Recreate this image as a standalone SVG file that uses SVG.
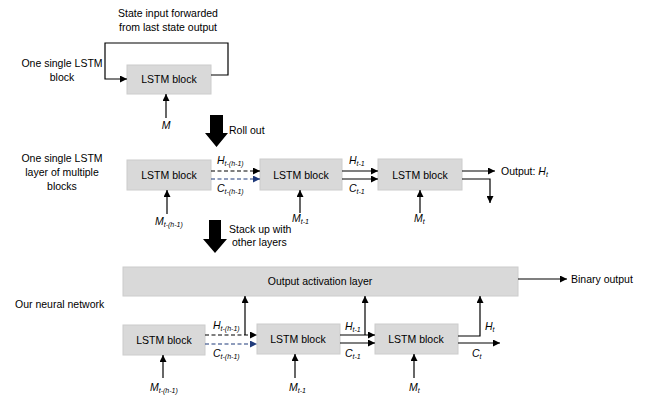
<svg xmlns="http://www.w3.org/2000/svg" width="647" height="396" viewBox="0 0 647 396">
<defs>
<style>
text{font-family:"Liberation Sans",Arial,sans-serif;font-size:10.5px;fill:#000}
.lbl{font-size:10.5px}
.it{font-style:italic;font-size:10.5px}
.sub{font-size:7px}
.blk{fill:#d9d9d9;stroke:#cccccc;stroke-width:1}
.ln{fill:none;stroke:#000;stroke-width:1.2}
.dash{fill:none;stroke:#000;stroke-width:1.2;stroke-dasharray:4 2.5}
.dashb{fill:none;stroke:#1f3a7a;stroke-width:1.2;stroke-dasharray:4 2.5}
</style>
<marker id="ah" viewBox="0 0 10 10" refX="10" refY="5" markerWidth="7" markerHeight="7" markerUnits="userSpaceOnUse" orient="auto"><path d="M0,0 L10,5 L0,10 z" fill="#000"/></marker>
<marker id="ahb" viewBox="0 0 10 10" refX="10" refY="5" markerWidth="7" markerHeight="7" markerUnits="userSpaceOnUse" orient="auto"><path d="M0,0 L10,5 L0,10 z" fill="#1f3a7a"/></marker>
</defs>

<!-- Side labels -->
<g id="labels">
<text x="62" y="67" text-anchor="middle">One single LSTM</text>
<text x="62" y="81" text-anchor="middle">block</text>
<text x="168" y="17" text-anchor="middle">State input forwarded</text>
<text x="168" y="31" text-anchor="middle">from last state output</text>
<text x="62" y="162" text-anchor="middle">One single LSTM</text>
<text x="62" y="176" text-anchor="middle">layer of multiple</text>
<text x="62" y="190" text-anchor="middle">blocks</text>
<text x="15" y="308">Our neural network</text>
<text x="229" y="134">Roll out</text>
<text x="229" y="233">Stack up with</text>
<text x="232" y="246">other layers</text>
<text x="501" y="175">Output: <tspan class="it">H</tspan><tspan class="sub" font-style="italic" dy="2">t</tspan></text>
<text x="571" y="283">Binary output</text>
</g>

<!-- Big arrows -->
<g id="rollout"><path d="M210,115 H223 V133 H228 L216.5,147 L205,133 H210 Z" fill="#000"/></g>
<g id="stackup"><path d="M209,220 H221 V239 H227 L215,253 L203,239 H209 Z" fill="#000"/></g>

<!-- Nodes -->
<g id="top-block"><rect class="blk" x="127" y="65" width="84" height="29"/><text x="169" y="83" text-anchor="middle">LSTM block</text></g>
<g id="r2-block1"><rect class="blk" x="127" y="160" width="84" height="30"/><text x="169" y="179" text-anchor="middle">LSTM block</text></g>
<g id="r2-block2"><rect class="blk" x="260" y="159" width="82" height="31"/><text x="301" y="179" text-anchor="middle">LSTM block</text></g>
<g id="r2-block3"><rect class="blk" x="378" y="159" width="84" height="31"/><text x="420" y="179" text-anchor="middle">LSTM block</text></g>
<g id="output-layer"><rect class="blk" x="123" y="267" width="395" height="29"/><text x="320" y="285" text-anchor="middle">Output activation layer</text></g>
<g id="r3-block1"><rect class="blk" x="123" y="325" width="82" height="30"/><text x="164" y="344" text-anchor="middle">LSTM block</text></g>
<g id="r3-block2"><rect class="blk" x="257" y="324" width="83" height="30"/><text x="298" y="343" text-anchor="middle">LSTM block</text></g>
<g id="r3-block3"><rect class="blk" x="375" y="324" width="83" height="30"/><text x="416" y="343" text-anchor="middle">LSTM block</text></g>

<!-- Connectors -->
<g id="connectors">
<path class="ln" d="M211,75 H228 V43 H105 V79 H127" marker-end="url(#ah)"/>
<path class="ln" d="M166,118 V94" marker-end="url(#ah)"/>
<!-- row 2 -->
<path class="dash" d="M211,171 H260" marker-end="url(#ah)"/>
<path class="dashb" d="M211,179 H260" marker-end="url(#ahb)"/>
<path class="ln" d="M342,171 H378" marker-end="url(#ah)"/>
<path class="ln" d="M342,179 H378" marker-end="url(#ah)"/>
<path class="ln" d="M462,171 H495" marker-end="url(#ah)"/>
<path class="ln" d="M462,179 H490 V203" marker-end="url(#ah)"/>
<path class="ln" d="M167,214 V190" marker-end="url(#ah)"/>
<path class="ln" d="M300,213 V190" marker-end="url(#ah)"/>
<path class="ln" d="M420,213 V190" marker-end="url(#ah)"/>
<!-- row 3 -->
<path class="ln" d="M518,279 H567" marker-end="url(#ah)"/>
<path class="dash" d="M205,335 H257" marker-end="url(#ah)"/>
<path class="dashb" d="M205,344 H257" marker-end="url(#ahb)"/>
<path class="ln" d="M245,335 V296" marker-end="url(#ah)"/>
<path class="ln" d="M340,335 H375" marker-end="url(#ah)"/>
<path class="ln" d="M340,343 H375" marker-end="url(#ah)"/>
<path class="ln" d="M365,335 V296" marker-end="url(#ah)"/>
<path class="ln" d="M458,336 H480 V296" marker-end="url(#ah)"/>
<path class="ln" d="M458,343 H500" marker-end="url(#ah)"/>
<path class="ln" d="M163,378 V355" marker-end="url(#ah)"/>
<path class="ln" d="M295,378 V354" marker-end="url(#ah)"/>
<path class="ln" d="M414,378 V354" marker-end="url(#ah)"/>
</g>

<!-- Connector labels -->
<g id="conn-labels">
<text x="166" y="129" class="it" text-anchor="middle">M</text>
<text x="217" y="164" class="it">H<tspan class="sub" dy="2">t-(h-1)</tspan></text>
<text x="217" y="192" class="it">C<tspan class="sub" dy="2">t-(h-1)</tspan></text>
<text x="349" y="164" class="it">H<tspan class="sub" dy="2">t-1</tspan></text>
<text x="349" y="192" class="it">C<tspan class="sub" dy="2">t-1</tspan></text>
<text x="155" y="225" class="it">M<tspan class="sub" dy="2">t-(h-1)</tspan></text>
<text x="292" y="222" class="it">M<tspan class="sub" dy="2">t-1</tspan></text>
<text x="414" y="222" class="it">M<tspan class="sub" dy="2">t</tspan></text>
<text x="213" y="329" class="it">H<tspan class="sub" dy="2">t-(h-1)</tspan></text>
<text x="213" y="357" class="it">C<tspan class="sub" dy="2">t-(h-1)</tspan></text>
<text x="345" y="330" class="it">H<tspan class="sub" dy="2">t-1</tspan></text>
<text x="345" y="357" class="it">C<tspan class="sub" dy="2">t-1</tspan></text>
<text x="485" y="330" class="it">H<tspan class="sub" dy="2">t</tspan></text>
<text x="472" y="357" class="it">C<tspan class="sub" dy="2">t</tspan></text>
<text x="150" y="391" class="it">M<tspan class="sub" dy="2">t-(h-1)</tspan></text>
<text x="289" y="391" class="it">M<tspan class="sub" dy="2">t-1</tspan></text>
<text x="409" y="391" class="it">M<tspan class="sub" dy="2">t</tspan></text>
</g>
</svg>
